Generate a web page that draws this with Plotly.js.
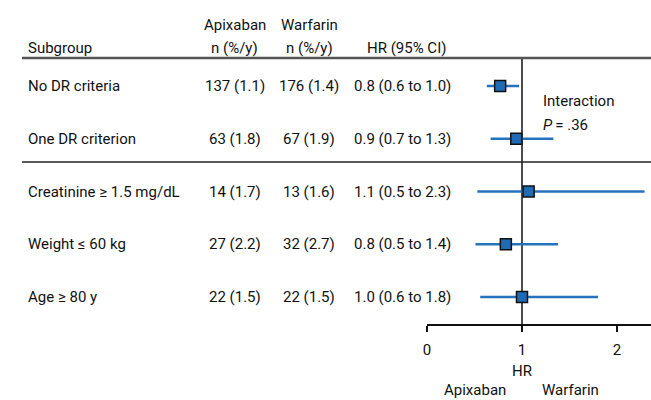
<!DOCTYPE html>
<html>
<head>
<meta charset="utf-8">
<script src="https://cdn.plot.ly/plotly-3.0.1.min.js"></script>
<style>html,body{margin:0;padding:0;background:#fff;}#chart{width:651px;height:400px;}</style>
</head>
<body>
<div id="chart"></div>
<script>
// ---- data ----
const subgroups = ["No DR criteria", "One DR criterion", "Creatinine \u2265 1.5 mg/dL", "Weight \u2264 60 kg", "Age \u2265 80 y"];
const apixabanN = ["137 (1.1)", "63 (1.8)", "14 (1.7)", "27 (2.2)", "22 (1.5)"];
const warfarinN = ["176 (1.4)", "67 (1.9)", "13 (1.6)", "32 (2.7)", "22 (1.5)"];
const hrLabels = ["0.8 (0.6 to 1.0)", "0.9 (0.7 to 1.3)", "1.1 (0.5 to 2.3)", "0.8 (0.5 to 1.4)", "1.0 (0.6 to 1.8)"];
const hr = [0.77, 0.94, 1.07, 0.83, 1.00];
const ciLow = [0.63, 0.67, 0.53, 0.51, 0.56];
const ciHigh = [0.97, 1.33, 2.29, 1.38, 1.80];
const xTicks = [0, 1, 2];
const headers = {subgroup: "Subgroup", apix: "Apixaban", warf: "Warfarin", unit: "n (%/y)", hr: "HR (95% CI)"};
const interactionText = ["Interaction", "<i>P</i>\u2009= .36"];
const axisTitle = "HR";
const favours = ["Apixaban", "Warfarin"];

// ---- layout helpers ----
const W = 651, H = 400;
const px = v => v / W;            // pixel x -> paper
const py = v => 1 - v / H;        // pixel y -> paper
const row0 = 86, rowStep = 52.75; // pixel y of first row, spacing
const FONT = "Roboto, 'Liberation Sans', Arial, sans-serif";
const txt = {family: FONT, size: 15, color: "#111"};
const blue = "#2672bd";

const idx = subgroups.map((_, i) => i);

const trace = {
  type: "scatter",
  mode: "markers",
  x: hr,
  y: idx,
  cliponaxis: false,
  marker: {symbol: "square", size: 11, color: "#1f6bb5", line: {color: "#111", width: 1.5}},
  error_x: {
    type: "data", symmetric: false,
    array: hr.map((v, i) => ciHigh[i] - v),
    arrayminus: hr.map((v, i) => v - ciLow[i]),
    width: 0, thickness: 2.6, color: blue
  },
  hoverinfo: "skip"
};

const ann = [];
function a(text, x, y, xanchor, yref) {
  ann.push({text, x, y, xref: "paper", yref: yref || "paper", xanchor, yanchor: "middle", showarrow: false, font: txt});
}
// headers
a(headers.subgroup, px(26), py(48), "left");
a(headers.apix, px(235), py(25), "center");
a(headers.unit, px(235), py(48), "center");
a(headers.warf, px(309), py(25), "center");
a(headers.unit, px(309), py(48), "center");
a(headers.hr, px(406), py(48), "center");
// rows
idx.forEach(i => {
  a(subgroups[i], px(26), i, "left", "y");
  a(apixabanN[i], px(235), i, "center", "y");
  a(warfarinN[i], px(309), i, "center", "y");
  a(hrLabels[i], px(352), i, "left", "y");
});
// interaction
a(interactionText[0], px(541), py(101), "left");
a(interactionText[1], px(541), py(125), "left");
// axis title and favours labels
a(axisTitle, px(522), py(371), "center");
a(favours[0], px(475), py(390), "center");
a(favours[1], px(570), py(390), "center");

const axisY = 324;
const layout = {
  width: W, height: H,
  margin: {l: 0, r: 0, t: 0, b: 0},
  paper_bgcolor: "#fff", plot_bgcolor: "rgba(0,0,0,0)",
  showlegend: false,
  font: txt,
  xaxis: {
    domain: [px(427), 1],
    range: [0, (W - 427) / 95],
    anchor: "free", position: py(axisY),
    showline: true, linecolor: "#111", linewidth: 1.5,
    ticks: "outside", ticklen: 6, tickwidth: 1.5, tickcolor: "#111",
    tickvals: xTicks, ticktext: xTicks.map(String),
    tickfont: txt, ticklabelstandoff: 5,
    showgrid: false, zeroline: false, fixedrange: true
  },
  yaxis: {
    domain: [0, 1],
    range: [(H - row0) / rowStep, -row0 / rowStep],
    visible: false, showgrid: false, zeroline: false, fixedrange: true
  },
  shapes: [
    {type: "line", xref: "paper", yref: "paper", x0: px(22), x1: 1, y0: py(58), y1: py(58), line: {color: "#555", width: 2.5}},
    {type: "line", xref: "paper", yref: "paper", x0: px(22), x1: 1, y0: py(162), y1: py(162), line: {color: "#222", width: 1.5}},
    {type: "line", xref: "x", yref: "paper", x0: 1, x1: 1, y0: py(58), y1: py(axisY), line: {color: "#111", width: 1.5}, layer: "below"}
  ],
  annotations: ann
};

Plotly.newPlot("chart", [trace], layout, {displayModeBar: false, staticPlot: true});
</script>
</body>
</html>
